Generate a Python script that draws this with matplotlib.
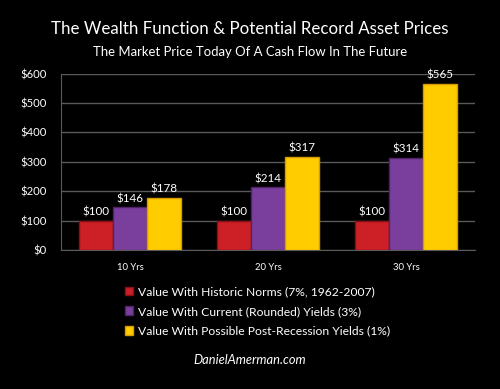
import numpy as np
import matplotlib.pyplot as plt

# data
categories = ['10 Yrs', '20 Yrs', '30 Yrs']
historic = [100, 100, 100]
current = [146, 214, 314]
post_recession = [178, 317, 565]
series_labels = ['Value With Historic Norms (7%, 1962-2007)',
                 'Value With Current (Rounded) Yields (3%)',
                 'Value With Possible Post-Recession Yields (1%)']
colors = ['#cc1f26', '#7a3f9d', '#ffcc00']
edges = ['#8a0f14', '#4e2466', '#d99a00']

plt.rcParams['font.family'] = ['Lato', 'DejaVu Sans']

fig = plt.figure(figsize=(5, 3.89), dpi=100, facecolor='black')
renderer = fig.canvas.get_renderer()


def fit_size(s, target_px, **kw):
    # font size that makes string s about target_px wide
    t = fig.text(0, 0, s, fontsize=10, **kw)
    wpx = t.get_window_extent(renderer).width
    t.remove()
    return 10 * target_px / wpx


ax = fig.add_axes([61/500, 1 - 250/389, 414/500, (250 - 73.5)/389])
ax.set_facecolor('black')

val_size = fit_size("$146", 27)
tick_size = fit_size("$600", 26)
cat_size = fit_size("10 Yrs", 27)

x = np.arange(len(categories))
w = 0.245
all_series = [historic, current, post_recession]
for i, vals in enumerate(all_series):
    bars = ax.bar(x + (i - 1) * w, vals, w, color=colors[i], edgecolor=edges[i],
                  linewidth=1, label=series_labels[i], zorder=3)
    for b, v in zip(bars, vals):
        ax.text(b.get_x() + b.get_width() / 2, v + 10, f"${v}", ha='center', va='bottom',
                color='white', fontsize=val_size)

ax.set_xlim(-0.5, 2.5)
ax.set_ylim(0, 600)
ax.set_yticks(range(0, 601, 100))
ax.set_yticklabels([f"${v}" for v in range(0, 601, 100)], color='white', fontsize=tick_size)
ax.set_xticks(x)
ax.set_xticklabels(categories, color='white', fontsize=cat_size)
ax.tick_params(length=0, pad=10)
ax.tick_params(axis='x', pad=9)
ax.grid(axis='y', color='#5a5a5a', linewidth=1, zorder=0)
for s in ['top', 'right']:
    ax.spines[s].set_visible(False)
ax.spines['left'].set_color('#5a5a5a')
ax.spines['bottom'].set_color('#5a5a5a')

title = "The Wealth Function & Potential Record Asset Prices"
subtitle = "The Market Price Today Of A Cash Flow In The Future"
fig.text(0.5, 1 - 29/389, title, ha='center', va='center', color='white',
         fontsize=fit_size(title, 397))
fig.text(0.5, 1 - 52/389, subtitle, ha='center', va='center', color='white',
         fontsize=fit_size(subtitle, 314))

leg = fig.legend(loc='center left', bbox_to_anchor=(114/500, 1 - 311.5/389), frameon=False,
                 fontsize=fit_size(series_labels[2], 253), labelcolor='white',
                 handlelength=0.7, handleheight=0.7, handletextpad=0.4, labelspacing=0.7)

mark = "DanielAmerman.com"
fig.text(0.5, 1 - 360/389, mark, ha='center', va='center', color='white',
         fontsize=fit_size(mark, 113, style='italic'), style='italic')

fig.savefig('out.png', dpi=100, facecolor='black')
